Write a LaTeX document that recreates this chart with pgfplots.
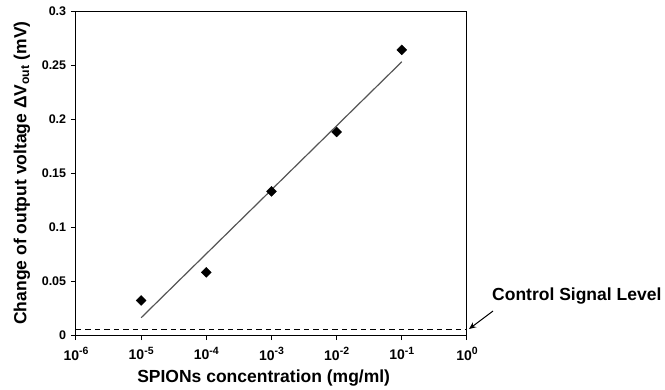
\documentclass[border=0pt]{standalone}
\usepackage{fontspec}
\setmainfont{Liberation Sans}
\usepackage{pgfplots}
\pgfplotsset{compat=1.18}
\usetikzlibrary{arrows.meta}
\definecolor{fitgray}{RGB}{85,85,85}
\newcommand{\ssup}[1]{\raisebox{0.42em}{\fontsize{10.5}{11}\selectfont #1}}
\begin{document}
\fontsize{14}{16}\selectfont\bfseries
\begin{tikzpicture}
\path[use as bounding box] (-76pt,-54pt) rectangle (589pt,335pt);
\begin{axis}[name=ax, at={(0,0)}, anchor=south west, scale only axis,
 width=391pt, height=324pt,
 xmode=log, xmin=1e-6, xmax=1, ymin=0, ymax=0.3,
 xtick={1e-6,1e-5,1e-4,1e-3,1e-2,1e-1,1},
 xticklabels={10\ssup{-6},10\ssup{-5},10\ssup{-4},10\ssup{-3},10\ssup{-2},10\ssup{-1},10\ssup{0}},
 ytick={0,0.05,0.1,0.15,0.2,0.25,0.3},
 yticklabels={0,0.05,0.1,0.15,0.2,0.25,0.3},
 xminorticks=false, yminorticks=false,
 tick align=outside, xtick pos=left, ytick pos=left,
 axis line style={line width=1pt},
 major tick length=5pt, tick style={line width=1pt, black},
 yticklabel style={font=\fontsize{12.5}{14}\selectfont\bfseries},
 xticklabel style={font=\fontsize{14}{16}\selectfont\bfseries, yshift=-2pt},
 xlabel={SPIONs concentration (mg/ml)},
 ylabel={Change of output voltage ΔV\textsubscript{out} (mV)},
 xlabel style={at={(rel axis cs:0.48,0)}, anchor=center, yshift=-43pt, font=\fontsize{17.5}{19}\selectfont\bfseries},
 ylabel style={at={(rel axis cs:0,0.5)}, anchor=center, yshift=54pt, font=\fontsize{17.5}{19}\selectfont\bfseries},
 clip=false]
\addplot[fitgray, line width=1.2pt] coordinates {(1e-5,0.016) (1e-1,0.253)};
\addplot[only marks, mark=square*, mark options={rotate=45}, mark size=3.5pt, black] coordinates {(1e-5,0.032) (1e-4,0.058) (1e-3,0.133) (1e-2,0.188) (1e-1,0.264)};
\addplot[black, line width=1.2pt, dash pattern=on 5.5pt off 4pt] coordinates {(1e-6,0.0053) (1,0.0053)};
\end{axis}
\draw[-{Stealth[length=7pt,width=6pt]}, line width=1pt] (417pt,24pt) -- (393pt,6pt);
\node[anchor=west, inner sep=0pt, font=\fontsize{17.5}{19}\selectfont\bfseries] at (416pt,39pt) {Control Signal Level};
\end{tikzpicture}
\end{document}
